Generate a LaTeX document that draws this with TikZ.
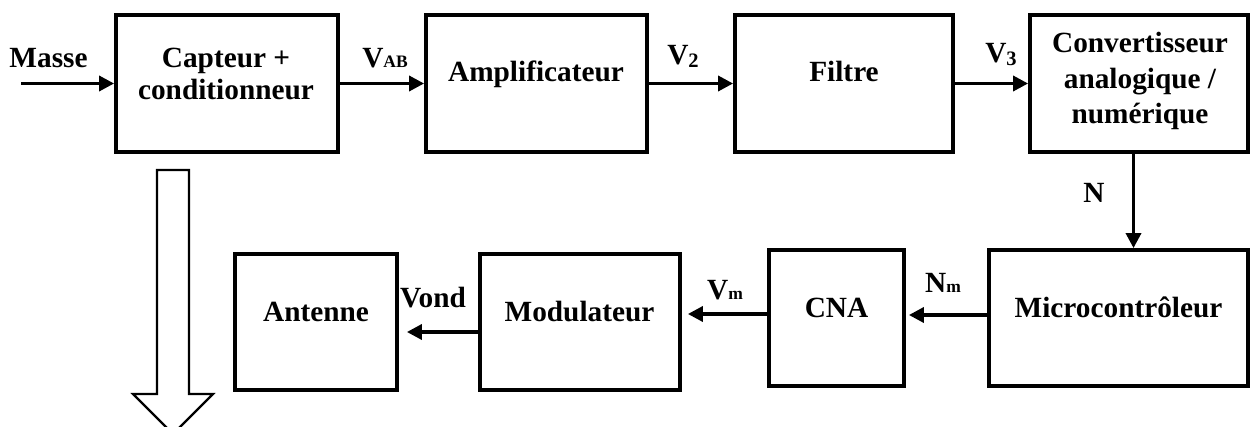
\documentclass[tikz,border=0pt]{standalone}
\usepackage{fontspec}
\setmainfont{Liberation Serif}
\usetikzlibrary{arrows.meta}
\newcommand\subtxt[1]{{\fontsize{17.5}{17.5}\selectfont #1}}
\newcommand\subnum[1]{\raisebox{-3pt}{\fontsize{20.5}{20.5}\selectfont #1}}
\tikzset{
  blk/.style={draw, line width=3.8pt, inner sep=0pt},
  txt/.style={inner sep=0pt, anchor=base, font=\fontsize{29.3}{30}\selectfont\bfseries},
  arr/.style={line width=3.4pt, -{Triangle[length=15pt,width=15pt]}},
  hollow/.style={draw, line width=2.2pt, fill=white}
}
\begin{document}
\begin{tikzpicture}[x=1pt,y=-1pt]
\useasboundingbox (0,0) rectangle (1253,427);
\clip (0,0) rectangle (1253,427);
% boxes
\node[blk, minimum width=222pt, minimum height=137pt] (cap)  at (227,83.5) {};
\node[blk, minimum width=221pt, minimum height=137pt] (amp)  at (536.5,83.5) {};
\node[blk, minimum width=218pt, minimum height=137pt] (fil)  at (844,83.5) {};
\node[blk, minimum width=218pt, minimum height=137pt] (conv) at (1139,83.5) {};
\node[blk, minimum width=259pt, minimum height=136pt] (mic)  at (1118.5,318) {};
\node[blk, minimum width=135pt, minimum height=136pt] (cna)  at (836.5,318) {};
\node[blk, minimum width=200pt, minimum height=136pt] (mod)  at (580,322) {};
\node[blk, minimum width=162pt, minimum height=136pt] (ant)  at (316,322) {};
% box texts
\node[txt] (tcap1) at (226,68) {Capteur +};
\node[txt] (tcap2) at (226,100) {conditionneur};
\node[txt] (tamp) at (536,82) {Amplificateur};
\node[txt] (tfil) at (844,82) {Filtre};
\node[txt] (tconv1) at (1140,53) {Convertisseur};
\node[txt] (tconv2) at (1140,88.5) {analogique /};
\node[txt] (tconv3) at (1140,124) {numérique};
\node[txt] (tmic) at (1118.5,318) {Microcontrôleur};
\node[txt] (tcna) at (836.5,318) {CNA};
\node[txt] (tmod) at (579.5,322) {Modulateur};
\node[txt] (tant) at (316,322) {Antenne};
% connector labels
\node[txt] (lmasse) at (48.5,68) {Masse};
\node[txt] (lvab) at (385,68) {V\subtxt{AB}};
\node[txt] (lv2) at (683,65) {V\subnum{2}};
\node[txt] (lv3) at (1001,63) {V\subnum{3}};
\node[txt] (ln) at (1094,203) {N};
\node[txt] (lnm) at (943,293) {N\subtxt{m}};
\node[txt] (lvm) at (725,300) {V\subtxt{m}};
\node[txt] (lvond) at (433,308) {Vond};
% connectors
\coordinate (min) at (21,83.5);
\draw[arr] (min) -- (cap.west);
\draw[arr] (cap.east) -- (amp.west);
\draw[arr] (amp.east) -- (fil.west);
\draw[arr] (fil.east) -- (conv.west);
\draw[arr] ([xshift=-5.5pt]conv.south) -- ([xshift=-5.5pt]conv.south |- mic.north);
\draw[arr, shorten >=3pt] ([yshift=3pt]mic.west) -- ([yshift=3pt]mic.west -| cna.east);
\draw[arr, shorten >=6pt] ([yshift=4pt]cna.west) -- ([yshift=4pt]cna.west -| mod.east);
\draw[arr, shorten >=8pt] ([yshift=-10pt]mod.west) -- ([yshift=-10pt]mod.west -| ant.east);
% hollow output arrow
\draw[hollow] (157,170) coordinate (hs) -- (189,170) -- (189,394) -- (213,394) -- (173,434) -- (133,394) -- (157,394) -- cycle;
\end{tikzpicture}
\end{document}
